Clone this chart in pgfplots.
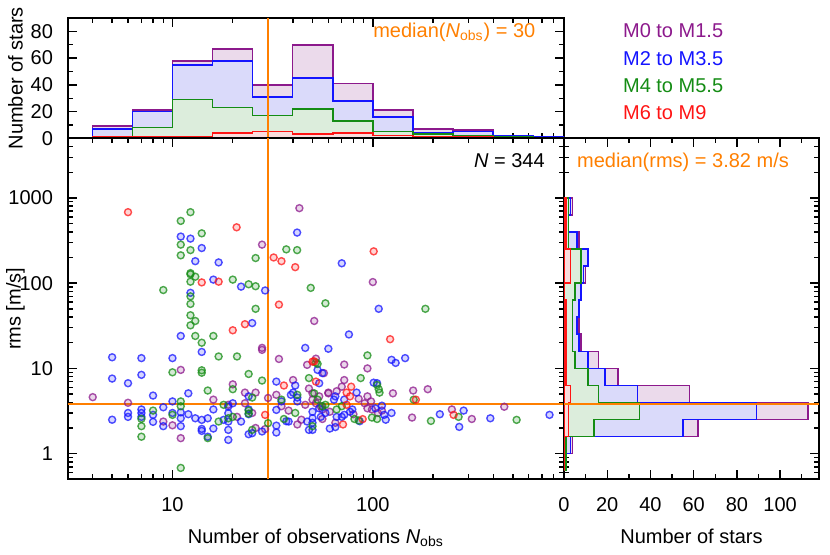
\documentclass[border=0pt]{standalone}
\usepackage{pgfplots}
\pgfplotsset{compat=1.18}
\usepackage{fontspec}
\setmainfont{Liberation Sans}
\setsansfont{Liberation Sans}
\definecolor{cpur}{RGB}{140,25,140}
\definecolor{cblu}{RGB}{20,20,255}
\definecolor{cgrn}{RGB}{20,140,20}
\definecolor{cred}{RGB}{255,20,20}
\definecolor{corg}{RGB}{255,127,0}
\definecolor{fpur}{RGB}{235,218,235}
\definecolor{fblu}{RGB}{218,218,250}
\definecolor{fgrn}{RGB}{220,237,220}
\definecolor{fred}{RGB}{250,220,220}
\pgfplotsset{
  base/.style={scale only axis, axis line style={line width=0.9pt},
    every tick/.style={black, line width=0.7pt},
    major tick length=4.5pt, minor tick length=2.5pt,
    tick label style={font=\fontsize{10}{12}\selectfont},
    label style={font=\fontsize{10}{12}\selectfont},
    xticklabel style={yshift=-5.4pt},
    yticklabel style={xshift=-3.85pt},
    ylabel style={at={(axis description cs:-0.1052,0.5)}, anchor=center},
    xlabel style={at={(axis description cs:0.5,0)}, anchor=base, yshift=-32pt},
  },
  hist/.style={line width=0.8pt},
  pts/.style={only marks, mark=*, mark size=1.75pt,
    mark options={line width=0.7pt, draw=#1, fill=#1, fill opacity=0.18, draw opacity=0.75}},
}
\begin{document}
\fontsize{10}{12}\selectfont
\begin{tikzpicture}
\useasboundingbox (0,0) rectangle (415pt,277pt);

% ---------------- top histogram ----------------
\begin{axis}[base,
  at={(33.85pt,207.85pt)}, anchor=south west, width=248.15pt, height=60.15pt,
  xmode=log, xmin=3, xmax=900, ymin=0, ymax=90,
  xtick={10,100}, xticklabels={},
  minor xtick={3,4,5,6,7,8,9,20,30,40,50,60,70,80,90,200,300,400,500,600,700,800,900},
  ytick={0,20,40,60,80}, yticklabels={0,20,40,60,80},
  minor ytick={10,30,50,70,90},
  ylabel={Number of stars},
]
\addplot[hist, const plot, draw=cpur, fill=fpur] coordinates {
(3.981,9) (6.310,21) (10,58) (15.849,67) (25.119,40) (39.811,70) (63.096,41) (100,21) (158.49,7) (251.19,6) (398.11,2) (630.96,1) (1000,1)} \closedcycle;
\addplot[hist, const plot, draw=cblu, fill=fblu] coordinates {
(3.981,7) (6.310,20) (10,55) (15.849,58) (25.119,31) (39.811,45) (63.096,28) (100,16) (158.49,4) (251.19,5) (398.11,2) (630.96,1) (1000,1)} \closedcycle;
\addplot[hist, const plot, draw=cgrn, fill=fgrn] coordinates {
(3.981,1) (6.310,8) (10,29) (15.849,23) (25.119,17) (39.811,22) (63.096,13) (100,5) (158.49,3) (251.19,2) (398.11,1) (630.96,0) (1000,0)} \closedcycle;
\addplot[hist, const plot, draw=cred, fill=fred] coordinates {
(3.981,1) (6.310,1) (10,1) (15.849,4) (25.119,5) (39.811,3) (63.096,4) (100,2) (158.49,1) (251.19,1) (398.11,0) (630.96,0) (1000,0)} \closedcycle;
\addplot[corg, line width=0.6pt] coordinates {(30,0) (30,90)};
\node[corg, anchor=base west, inner sep=0pt] at (rel axis cs:0.615,0.842) {median(\textit{N}\textsubscript{obs}) = 30};
\end{axis}

% ---------------- main scatter ----------------
\begin{axis}[base,
  at={(33.85pt,37.35pt)}, anchor=south west, width=248.15pt, height=170.5pt,
  xmode=log, ymode=log, xmin=3, xmax=900, ymin=0.5, ymax=5000,
  xtick={10,100}, xticklabels={10,100},
  minor xtick={3,4,5,6,7,8,9,20,30,40,50,60,70,80,90,200,300,400,500,600,700,800,900},
  ytick={1,10,100,1000}, yticklabels={1,10,100,1000},
  minor ytick={0.5,0.6,0.7,0.8,0.9,2,3,4,5,6,7,8,9,20,30,40,50,60,70,80,90,200,300,400,500,600,700,800,900,2000,3000,4000,5000},
  xlabel={Number of observations \textit{N}\textsubscript{obs}},
  ylabel={rms [m/s]},
]
\addplot[corg, line width=0.6pt] coordinates {(30,0.5) (30,5000)};
\addplot[corg, line width=0.6pt] coordinates {(3,3.82) (900,3.82)};
% M0 to M1.5
\addplot[pts=cpur] coordinates {
(43,758) (28,283) (100,103) (51,36) (28,17.4) (34,12.9) (52,13) (11,9.6) (4,4.6) (20,6.5) (28,16.5) (6,3.95) (9,2.38) (10,2.15) (11,1.52) (16,4.3) (19,3.74) (21,2.7) (23,5.2) (23,3.9) (26,5.2) (26,2.0) (29,1.94) (33,4.9) (40,7.3) (46,3.74) (47,11) (50,5.1) (50,4.3) (72,11.1) (94,10) (126,5.1) (159,5.5) (188,5.7) (72,7.3) (70,6.1) (66,5.4) (60,5.1) (54,4.7) (60,5.2) (57,8.8) (52,3.9) (55,3.6) (56,3.3) (61,3.1) (56,2.55) (91,3.9) (98,4.1) (94,3.4) (99,3.3) (94,4.7) (106,3.0) (111,3.2) (157,2.65) (248,3.3) (312,2.55) (453,3.55) (38,3.2) (44,2.5) (65,2.3) (80,2.9) (35,3.6) (42,2.2) (48,5.8) (85,4.4) (30,4.5) (25,3.0)};
% M2 to M3.5
\addplot[pts=cblu] coordinates {
(11,352) (12.3,333) (41.9,392) (14,258) (13,181) (17,175) (16,110) (22,91) (29,82) (12.3,77) (25,34) (11,24) (14,15.6) (46,17.4) (5,13.5) (7,13.2) (10,13.2) (70,171) (107,50) (76,25) (60,17) (124,12.6) (145,13.2) (130,11.6) (5,7.6) (6,6.7) (7,8.4) (8,4.8) (12,5.1) (33,7) (5,2.5) (6,3.0) (6,2.7) (7,3.3) (7,3.0) (7,2.7) (8,2.85) (8,2.36) (9,3.5) (9,2.1) (10,4.1) (10,3.0) (11,3.05) (11,2.6) (11,2.1) (12,2.9) (13,2.6) (14,2.49) (14,1.95) (14,1.85) (15,2.6) (15,1.58) (16,3.3) (16,1.97) (18,2.49) (19,3.57) (19,2.98) (19,2.38) (19,1.9) (19,1.45) (20,3.9) (22,2.38) (24,4.7) (24,3.3) (24,2.9) (25,1.74) (24,1.69) (28,1.82) (33,2.13) (33,1.77) (33,3.26) (35,4.1) (37,2.4) (38,2.38) (39,4.9) (40,5.2) (41,6.3) (42,4.55) (42,4.1) (47,2.38) (50,2.3) (50,1.9) (48,1.9) (50,3.1) (50,2.6) (101,6.8) (105,6.7) (83,5.2) (65,4.7) (64,4.3) (72,4.3) (53,9.6) (56,8.8) (54,6.7) (54,3.4) (58,3.0) (55,2.7) (61,1.97) (65,2.05) (66,2.7) (72,2.85) (70,2.7) (79,3.3) (77,3.1) (86,2.4) (103,3.4) (111,3.65) (114,2.85) (116,2.5) (124,3.0) (216,2.9) (270,2.06) (284,3.2) (386,2.6) (762,2.85)};
% M4 to M5.5
\addplot[pts=cgrn] coordinates {
(12.3,680) (11,537) (14,384) (11,283) (12.3,244) (37,249) (41.9,244) (11,212) (26,197) (12.3,131) (12.3,127) (13,119) (12.3,104) (20,110) (24,97) (26,92) (9,83) (49,88) (12.3,70) (12.3,57) (26,50) (12.3,42) (13,36) (12.3,32) (13,24) (16,24) (14,20) (17,13.8) (21,13.8) (58,58) (183,50) (94,14.2) (10,9) (14,9.5) (14,8.9) (24,8.6) (15,5.5) (20,5.7) (28,7.2) (7,2.56) (7,2.1) (7,1.58) (8,3.2) (10,2.85) (11,4.1) (11,0.68) (11,3.6) (15,1.52) (17,2.38) (18,3.74) (19,2.6) (20,2.7) (24,3.2) (24,2.95) (25,4.55) (25,1.9) (30,2.28) (35,4.3) (36,2.55) (41,3.0) (42,4.9) (48,7.7) (87,7.7) (105,6.4) (107,5.7) (108,5.2) (160,4.3) (52,11.7) (53,11.3) (51,5.1) (53,4.3) (56,3.6) (58,3.74) (50,2.1) (66,3.3) (70,3.6) (81,2.55) (85,2.45) (99,2.65) (105,2.55) (195,2.42) (268,2.7) (522,2.49)};
% M6 to M9
\addplot[pts=cred] coordinates {
(6,680) (20.9,452) (32,200) (35,181) (41,154) (14,102) (17,104) (34,56) (23,33) (20,28) (101,236) (122,22) (51,12.1) (36,6.3) (29,2.85) (50,12) (52,7) (78,6.1) (74,5.2) (77,4.7) (74,3.74) (71,2.2) (89,2.54) (164,4.3) (253,2.85)};
\node[anchor=base east, inner sep=0pt] at (rel axis cs:0.962,0.915) {\textit{N} = 344};
\end{axis}

% ---------------- right histogram ----------------
\begin{axis}[base,
  at={(282pt,37.35pt)}, anchor=south west, width=127.5pt, height=170.5pt,
  ymode=log, xmin=0, xmax=118, ymin=0.5, ymax=5000,
  xtick={0,20,40,60,80,100}, xticklabels={0,20,40,60,80,100},
  minor xtick={10,30,50,70,90,110},
  ytick={1,10,100,1000}, yticklabels={},
  minor ytick={0.5,0.6,0.7,0.8,0.9,2,3,4,5,6,7,8,9,20,30,40,50,60,70,80,90,200,300,400,500,600,700,800,900,2000,3000,4000,5000},
  xlabel={Number of stars},
]
\addplot[hist, const plot mark right, draw=cpur, fill=fpur] coordinates {
(0,0.631) (1,0.631) (4,1) (62,1.585) (113,2.512) (58,3.981) (25,6.310) (16,10) (8,15.849) (7,25.119) (7,39.811) (8,63.096) (10,100) (11,158.49) (7,251.19) (2,398.11) (4,630.96) (0,1000)} -- cycle;
\addplot[hist, const plot mark right, draw=cblu, fill=fblu] coordinates {
(0,0.631) (1,0.631) (3,1) (55,1.585) (89,2.512) (34,3.981) (19,6.310) (11,10) (7,15.849) (6,25.119) (7,39.811) (8,63.096) (9,100) (11,158.49) (6,251.19) (2,398.11) (3,630.96) (0,1000)} -- cycle;
\addplot[hist, const plot mark right, draw=cgrn, fill=fgrn] coordinates {
(0,0.631) (1,0.631) (1,1) (14,1.585) (35,2.512) (16,3.981) (11,6.310) (5,10) (4,15.849) (4,25.119) (4,39.811) (5,63.096) (8,100) (8,158.49) (2,251.19) (2,398.11) (2,630.96) (0,1000)} -- cycle;
\addplot[hist, const plot mark right, draw=cred, fill=fred] coordinates {
(0,0.631) (0,0.631) (0,1) (2,1.585) (2,2.512) (3,3.981) (1,6.310) (1,10) (1,15.849) (1,25.119) (1,39.811) (0,63.096) (3,100) (3,158.49) (1,251.19) (1,398.11) (1,630.96) (0,1000)} -- cycle;
\addplot[corg, line width=0.6pt] coordinates {(0,3.82) (118,3.82)};
\node[corg, anchor=base west, inner sep=0pt] at (rel axis cs:0.05,0.915) {median(rms) = 3.82 m/s};
\end{axis}

% ---------------- colour key ----------------
\node[cpur, anchor=base west, inner sep=0pt] at (311.35pt,258.05pt) {M0 to M1.5};
\node[cblu, anchor=base west, inner sep=0pt] at (311.35pt,244.25pt) {M2 to M3.5};
\node[cgrn, anchor=base west, inner sep=0pt] at (311.35pt,230.55pt) {M4 to M5.5};
\node[cred, anchor=base west, inner sep=0pt] at (311.35pt,217.05pt) {M6 to M9};
\end{tikzpicture}
\end{document}
